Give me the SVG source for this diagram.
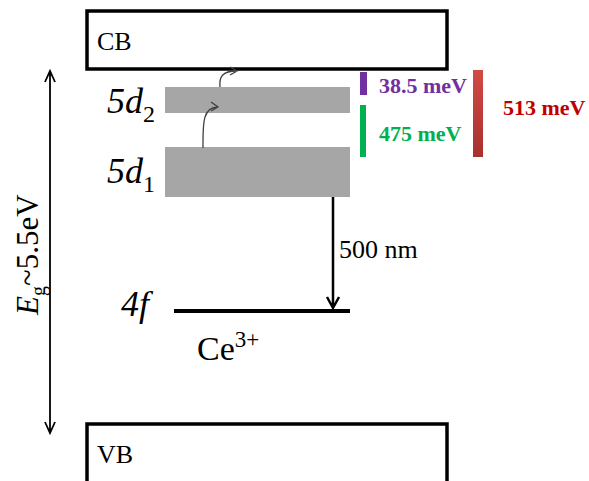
<svg xmlns="http://www.w3.org/2000/svg" width="589" height="481" viewBox="0 0 589 481">
<defs>
<style>
.band{fill:#ffffff;stroke:#000000;stroke-width:3.5}
.lvl{fill:#a6a6a6}
.t{font-family:"Liberation Serif","Times New Roman",serif;fill:#000}
.it{font-style:italic}
.up{font-style:normal}
.e{font-family:"Liberation Serif","Times New Roman",serif;font-weight:bold;font-size:22px}
.thin{fill:none;stroke:#404040;stroke-width:1.3}
.ax{fill:none;stroke:#000;stroke-width:1.8}
</style>
<linearGradient id="red" x1="0" y1="0" x2="0" y2="1">
<stop offset="0" stop-color="#d24a46"/>
<stop offset="1" stop-color="#a83030"/>
</linearGradient>
</defs>
<g id="CB">
<rect class="band" x="87" y="11" width="360" height="58"/>
<text class="t" x="97" y="50" font-size="26">CB</text>
</g>
<g id="VB">
<rect class="band" x="87" y="424" width="360" height="70"/>
<text class="t" x="97" y="463" font-size="26">VB</text>
</g>
<g id="level-5d2">
<rect class="lvl" x="165" y="87" width="185" height="26"/>
<text class="t it" x="107" y="113" font-size="36">5d<tspan class="up" font-size="24" dy="9">2</tspan></text>
</g>
<g id="level-5d1">
<rect class="lvl" x="165" y="147" width="185" height="50"/>
<text class="t it" x="107" y="183" font-size="36">5d<tspan class="up" font-size="24" dy="9">1</tspan></text>
</g>
<g id="level-4f">
<line x1="174" y1="311" x2="350" y2="311" stroke="#000" stroke-width="4"/>
<text class="t it" x="121" y="316" font-size="36">4f</text>
</g>
<g id="ion-label">
<text class="t" x="197" y="360" font-size="34">Ce<tspan font-size="23" dy="-13">3+</tspan></text>
</g>
<g id="gap-label">
<text class="t" transform="translate(38,315) rotate(-90)" font-size="31"><tspan class="it">E</tspan><tspan font-size="20" dy="7">g</tspan><tspan dy="-7">~5.5eV</tspan></text>
</g>
<g id="energy-bars">
<rect x="360" y="72" width="7" height="23" fill="#7030a0"/>
<rect x="360" y="105" width="6" height="52" fill="#00b050"/>
<rect x="473" y="70" width="10" height="87" fill="url(#red)"/>
<text class="e" x="379" y="93" fill="#7030a0">38.5 meV</text>
<text class="e" x="379" y="141" fill="#00b050">475 meV</text>
<text class="e" x="503" y="115" fill="#c00000">513 meV</text>
</g>
<g id="connectors">
<path class="ax" d="M50 72 V432 M45 82 L50 71 L55 82 M45 422 L50 433 L55 422"/>
<path d="M333 197 V308 M327 297 L333 308 L339 297" fill="none" stroke="#000" stroke-width="2.5"/>
<path class="thin" d="M203 148 C203 125 202 107 218 107 M211 102 L218 107 L211 111"/>
<path class="thin" d="M220 87 C219 77 222 71 237 71 M230 67 L237 71 L230 75"/>
<text class="t" x="339" y="258" font-size="26">500 nm</text>
</g>
</svg>
